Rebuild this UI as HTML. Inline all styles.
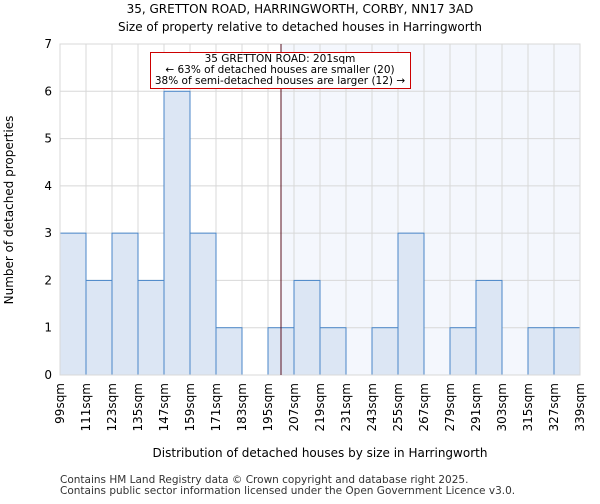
<!DOCTYPE html>
<html><head><meta charset="utf-8"><style>
body{margin:0;background:#fff;font-family:"DejaVu Sans","Liberation Sans",sans-serif}
</style></head><body>
<svg id="chart" width="600" height="500" xmlns="http://www.w3.org/2000/svg" font-family="DejaVu Sans, Liberation Sans, sans-serif">
<text x="300" y="13" text-anchor="middle" font-size="12">35, GRETTON ROAD, HARRINGWORTH, CORBY, NN17 3AD</text>
<text x="300" y="31" text-anchor="middle" font-size="12">Size of property relative to detached houses in Harringworth</text>
<g id="plot"></g>
<text x="320" y="457" text-anchor="middle" font-size="12">Distribution of detached houses by size in Harringworth</text>
<text transform="translate(13,210) rotate(-90)" text-anchor="middle" font-size="12">Number of detached properties</text>
<text x="60" y="483" font-size="10.5" fill="#333">Contains HM Land Registry data © Crown copyright and database right 2025.</text>
<text x="60" y="494" font-size="10.5" fill="#333">Contains public sector information licensed under the Open Government Licence v3.0.</text>
</svg>
<script>
const binStarts=[99,111,123,135,147,159,171,183,195,207,219,231,243,255,267,279,291,303,315,327];
const counts=[3,2,3,2,6,3,1,0,1,2,1,0,1,3,0,1,2,0,1,1];
const tickLabels=["99sqm","111sqm","123sqm","135sqm","147sqm","159sqm","171sqm","183sqm","195sqm","207sqm","219sqm","231sqm","243sqm","255sqm","267sqm","279sqm","291sqm","303sqm","315sqm","327sqm","339sqm"];
const yTicks=[0,1,2,3,4,5,6,7];
const subjectSize=201;
const NS="http://www.w3.org/2000/svg";
const L=60,R=580,T=44,B=375,xMin=99,xMax=339,yMax=7;
const x=v=>L+(v-xMin)/(xMax-xMin)*(R-L);
const y=v=>B-v/yMax*(B-T);
const g=document.getElementById('plot');
function mk(tag,attrs){const e=document.createElementNS(NS,tag);for(const k in attrs)e.setAttribute(k,attrs[k]);g.appendChild(e);return e;}
const sh=mk('rect',{x:x(subjectSize),y:T,width:R-x(subjectSize),height:B-T,fill:'#f4f7fd'});


yTicks.forEach(t=>{
  const l=mk('line',{x1:L,x2:R,y1:y(t),y2:y(t),stroke:'#d8d8d8','stroke-width':1});
  
  
  const tx=mk('text',{x:L-8,y:y(t)+4,'text-anchor':'end','font-size':12});
  tx.textContent=t;
  
  
});
tickLabels.forEach((lab,i)=>{
  const v=xMin+12*i;
  const l=mk('line',{x1:x(v),x2:x(v),y1:T,y2:B,stroke:'#d8d8d8','stroke-width':1});
  
  
  const tx=mk('text',{transform:`translate(${x(v)+4},${B+8}) rotate(-90)`,'text-anchor':'end','font-size':12});
  tx.textContent=lab;
  
  
});
binStarts.forEach((s,i)=>{
  if(!counts[i])return;
  const r=mk('rect',{x:x(s),y:y(counts[i]),width:x(s+12)-x(s),height:B-y(counts[i]),fill:'#dce6f4',stroke:'#4a86c8','stroke-width':1});
  
  
});
const ax=mk('rect',{x:L,y:T,width:R-L,height:B-T,fill:'none',stroke:'#d8d8d8'});


const ml=mk('line',{x1:x(subjectSize),x2:x(subjectSize),y1:T,y2:B,stroke:'#5a1020','stroke-width':1});


const box=mk('rect',{x:150.5,y:52.5,width:260,height:36,fill:'#fff',stroke:'#c00','stroke-width':1});


[["35 GRETTON ROAD: 201sqm",62],["← 63% of detached houses are smaller (20)",73],["38% of semi-detached houses are larger (12) →",84]].forEach(([t,yy])=>{
  const e=mk('text',{x:280,y:yy,'text-anchor':'middle','font-size':10.5});
  e.textContent=t;
  
  
});
</script>
</body></html>
